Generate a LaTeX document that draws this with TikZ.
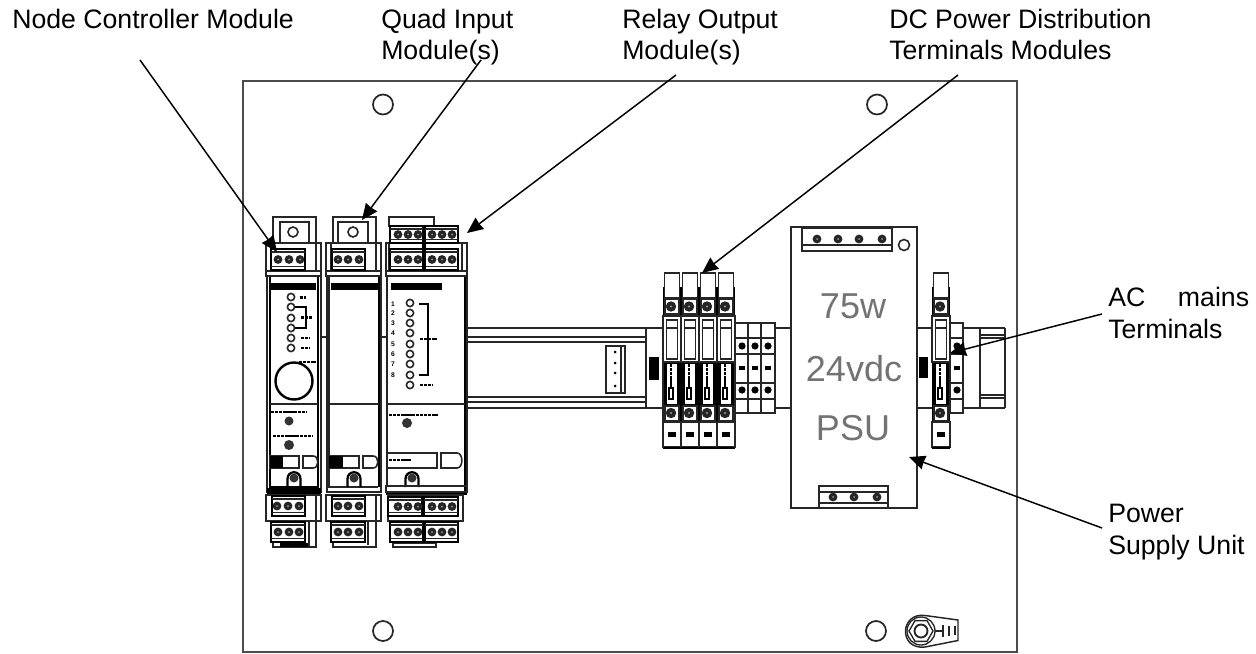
\documentclass[tikz,border=0pt]{standalone}
\usepackage{fontspec}
\setmainfont{Liberation Sans}
\usetikzlibrary{arrows.meta}
\tikzset{
  ln/.style={draw=black!85,line width=1pt},
  thk/.style={draw=black,line width=1.7pt},
  panelline/.style={draw=black!70,line width=1.8pt},
  lbl/.style={anchor=base west,font=\fontsize{20}{23.3}\selectfont,align=left,inner sep=0pt,text=black},
  psu/.style={anchor=center,font=\fontsize{27}{30}\selectfont,text=black!55,inner sep=0pt},
  ptr/.style={draw=black,line width=1.1pt,-{Stealth[length=12pt,width=10.5pt,inset=0.5pt]}},
  blob/.style={draw=black,line width=2.2pt,dash pattern=on 2.4pt off 0.5pt},
}
\newcommand{\scr}[2]{\fill[black!85] (#1,#2) circle (4.4);\fill[black!40] (#1,#2) circle (1);}
\newcommand{\led}[2]{\draw[draw=black!85,line width=1.2pt,fill=white] (#1,#2) circle (3.6);}
% terminal block: x1 y1 x2 y2 screws
\newcommand{\tblk}[5]{%
  \draw[thk,fill=white] (#1,#2) rectangle (#3,#4);
  \foreach \s in {#5}{\scr{\s}{#2/2+#4/2}}
  \draw[ln] (#1,#4-3.5) -- (#3,#4-3.5);
  \draw[ln] (#1,#2+3) -- (#3,#2+3);}
% screw post with arch
\newcommand{\arch}[2]{%
  \draw[thk] (#1-6.5,#2+9) -- (#1-6.5,#2+1) .. controls (#1-6.5,#2-8) and (#1+6.5,#2-8) .. (#1+6.5,#2+1) -- (#1+6.5,#2+9);
  \fill[black!80] (#1,#2) circle (4.5);}
% D-shaped window
\newcommand{\dshape}[4]{%
  \draw[draw=black!85,line width=1.2pt,fill=white] (#1,#3) -- (#1,#4) -- (#2-5,#4) .. controls (#2+1.5,#4) and (#2+1.5,#3) .. (#2-5,#3) -- cycle;}
% DC terminal column
\newcommand{\dcterm}[1]{%
  \draw[ln,fill=white] (#1-7.5,273) rectangle (#1+7.5,298);
  \draw[ln,fill=white] (#1-7,299) rectangle (#1+7,314);
  \fill[black!85] (#1-1,306.5) circle (5.2);\fill[black!40] (#1-1,306.5) circle (1.2);
  \draw[ln,fill=white] (#1-9,316) rectangle (#1+9,362);
  \draw[ln,fill=white] (#1-5.5,320) rectangle (#1+5.5,359);
  \draw[ln] (#1-5.5,328) -- (#1+5.5,328);
  \fill[white] (#1-5,364) rectangle (#1+5,404);
  \draw[blob,line width=1.8pt] (#1-1,364) -- (#1-1,388);
  \draw[draw=black,line width=1pt] (#1-3,388) rectangle (#1+1,399);
  \draw[ln,fill=white] (#1-7,406) rectangle (#1+7,421);
  \fill[black!85] (#1-1,413) circle (5.2);\fill[black!40] (#1-1,413) circle (1.2);
  \draw[ln,fill=white] (#1-9,422) rectangle (#1+9,447);
  \fill[black] (#1-4.5,432) rectangle (#1+3.5,437);
  \draw[thk] (#1-9,448) -- (#1+9,448);}
\begin{document}
\begin{tikzpicture}[x=0.75pt,y=-0.75pt]
\useasboundingbox (0,0) rectangle (1256,653);
% panel
\draw[panelline] (243,81) rectangle (1017,652);
\foreach \p in {(383,104.5),(877,104.5),(383,631),(876,631)}{\draw[draw=black!85,line width=1.3pt] \p circle (10);}
% earth lug
\draw[draw=black!85,line width=1.1pt] (958,620) -- (925,615.5) .. controls (900,612) and (898,650) .. (925,647) -- (958,640.5) -- cycle;
\draw[draw=black!85,line width=1pt] (921,631) circle (14);
\draw[draw=black!85,line width=1pt] (933,631) -- (927,620.6) -- (915,620.6) -- (909,631) -- (915,641.4) -- (927,641.4) -- cycle;
\draw[draw=black!85,line width=1.4pt] (921,631) circle (6.5);
\draw[draw=black!85,line width=1pt] (935,631) -- (943,631) (943,625) -- (943,637) (949,626) -- (949,636);
\draw[draw=black!85,line width=1pt] (955,626) -- (955,635);
% rail
\draw[ln] (467,328) -- (790,328) (467,408) -- (790,408);
\draw[ln] (467,337) -- (646,337) (467,342) -- (646,342) (467,397) -- (646,397) (467,402) -- (646,402);
\draw[ln] (646,328) -- (646,408);
\fill[black] (649,357) rectangle (659,380);
% small connector
\draw[ln,fill=white] (606,346) rectangle (625,393);
\draw[ln] (621,346) -- (621,393);
\foreach \y in {352,363,373,386}{\fill[black] (615,\y) circle (1.5);}
% module ticks
\draw[ln] (321,337) -- (326,337) (381,337) -- (386,337);
% module 1
\draw[ln,fill=white] (273,217) rectangle (316,243);
\draw[ln,fill=white] (280,222) rectangle (309,243);
\draw[draw=black!85,line width=1.2pt] (293,232) circle (5);
\draw[ln,fill=white] (266,243) rectangle (321,276);
\draw[ln] (271,243) -- (271,270) (316,243) -- (316,270);
\draw[ln] (266,271) -- (321,271);
\tblk{271}{249}{305}{270}{278,289,300}
\draw[ln,fill=white] (267,276) rectangle (321,492);
\draw[thk] (270,277) -- (270,487) -- (318,487) -- (318,277);
\fill[black] (270,283) rectangle (316,290);
\foreach \y in {297,307,318,328,338,348}{\led{291}{\y}}
\draw[draw=black,line width=1.2pt] (295,307) -- (306,307) -- (306,328) -- (295,328);
\draw[blob,line width=2.2pt] (300,297.5) -- (306,297.5) (301,317.5) -- (312,317.5) (301,338) -- (310,338) (301,348) -- (310,348) (299,362) -- (316,362);
\draw[draw=black,line width=1.8pt] (294,381) circle (18.5);
\draw[ln] (270,404) -- (318,404);
\draw[blob] (271,412) -- (307,412) (273,436) -- (313,436);
\fill[black!80] (289,421) circle (4.5);\fill[black!80] (289,445) circle (5);
\draw[draw=black!85,line width=1.2pt,fill=white] (270,456) rectangle (299,468);
\fill[black] (270,456) rectangle (283,468);
\dshape{303}{318}{456}{468}
\arch{294}{478}
\fill[black] (267,488) rectangle (321,495);
\draw[ln,fill=white] (266,495) rectangle (321,521);
\draw[ln] (316,495) -- (316,521);
\tblk{272}{496}{305}{516}{277,288,299}
\draw[ln,fill=white] (273,521) rectangle (316,547);
\draw[ln] (309,521) -- (309,547);
\tblk{271}{522}{305}{542}{278,289,299}
\fill[black] (280,543) rectangle (308,547);
% module 2
\draw[ln,fill=white] (333,217) rectangle (376,243);
\draw[ln,fill=white] (338,222) rectangle (368,243);
\draw[draw=black!85,line width=1.2pt] (353,232) circle (5);
\draw[ln,fill=white] (326,243) rectangle (381,276);
\draw[ln] (331,243) -- (331,270) (376,243) -- (376,270);
\draw[ln] (326,271) -- (381,271);
\tblk{332}{249}{365}{270}{338,348,359}
\draw[ln,fill=white] (327,276) rectangle (381,492);
\draw[ln] (329,277) -- (329,487) -- (378,487);
\draw[draw=black,line width=1.8pt] (379,277) -- (379,487);
\fill[black] (331,283) rectangle (379,290);
\draw[ln] (329,404) -- (379,404);
\draw[draw=black!85,line width=1.2pt,fill=white] (329,456) rectangle (359,468);
\fill[black] (329,456) rectangle (343,468);
\dshape{363}{378}{456}{468}
\arch{354}{478}
\draw[ln] (327,492) -- (381,492);
\draw[ln,fill=white] (326,495) rectangle (381,521);
\draw[ln] (376,495) -- (376,521);
\tblk{332}{496}{365}{516}{338,348,359}
\draw[ln,fill=white] (333,521) rectangle (376,547);
\draw[ln] (368,521) -- (368,545);
\tblk{331}{522}{365}{542}{338,348,359}
% module 3
\draw[ln,fill=white] (389,217) rectangle (434,226);
\draw[ln,fill=white] (386,243) rectangle (467,276);
\draw[ln] (389,243) -- (389,270) (462,243) -- (462,270);
\draw[ln] (386,271) -- (467,271);
\tblk{390}{226}{423}{243}{398,408,418}
\tblk{425}{226}{458}{243}{432,442,452}
\tblk{390}{249}{423}{270}{398,408,418}
\tblk{425}{249}{458}{270}{432,442,452}
\fill[black] (421.5,243) rectangle (425.5,270);
\draw[ln,fill=white] (387,276) rectangle (467,486);
\draw[draw=black,line width=1.8pt] (465,277) -- (465,495);
\fill[black] (391,283) rectangle (442,290);
\foreach \n/\y in {1/304,2/313,3/323,4/333,5/344,6/354,7/364,8/375}{\node[inner sep=0pt,font=\fontsize{5}{5}\bfseries\selectfont] (n\n) at (393,\y) {\n};}
\foreach \y in {303,313,323,333,344,354,364,375,385}{\led{410}{\y}}
\draw[draw=black,line width=1.4pt] (419,304) -- (428,304) -- (428,375) -- (419,375);
\draw[blob] (420,339) -- (437,339) (420,385) -- (433,385);
\draw[ln] (387,404) -- (465,404);
\draw[blob] (389,415) -- (438,415);
\fill[black!80] (407,423) circle (5);
\draw[draw=black!85,line width=1.2pt,fill=white] (387,453) rectangle (437,468);
\draw[blob,line width=1.6pt] (389,460) -- (411,460);
\dshape{441}{462}{453}{468}
\arch{412}{478}
\draw[ln] (386,486) rectangle (467,492);
\fill[black] (386,493) rectangle (467,495);
\draw[ln,fill=white] (388,495) rectangle (463,521);
\tblk{388}{497}{422.5}{516}{398,408,418}
\tblk{423.5}{497}{458}{516}{432,442,452}
\draw[ln,fill=white] (393,543) rectangle (436,547);
\tblk{390}{522}{423}{542}{398,408,418}
\tblk{425}{522}{458}{542}{432,442,452}
% DC terminal modules
\fill[black] (663,287) rectangle (735,316);
\fill[black] (663,362) rectangle (735,405);
\fill[black] (663,405) rectangle (735,422);
\foreach \c in {672,690,708,726}{\dcterm{\c}}
\draw[ln] (663,316) -- (663,448) (735,316) -- (735,448);
% three-way terminal
\draw[ln,fill=white] (735,323) rectangle (775,413);
\draw[ln] (748,323) -- (748,413) (761,323) -- (761,413);
\foreach \y in {338,354,383,399}{\draw[ln] (735,\y) -- (775,\y);}
\foreach \x in {742,755,768}{\fill[black] (\x,346) circle (3.6);\fill[black] (\x,390) circle (3.6);\fill[black] (\x-3,366) rectangle (\x+3,370);}
% PSU
\draw[ln,fill=white] (791,227) rectangle (917,508);
\draw[ln,fill=white] (802,228) rectangle (892,251);
\draw[ln] (802,245) -- (892,245);
\foreach \x in {817,838,859,882}{\scr{\x}{239}}
\draw[draw=black!85,line width=1.2pt] (904,245) circle (5.5);
\draw[ln,fill=white] (819,486) rectangle (888,508);
\draw[ln] (819,492) -- (888,492) (819,503) -- (888,503);
\foreach \x in {833,854,877}{\scr{\x}{497}}
\node[psu] (t75) at (853,306) {75w};
\node[psu] (t24) at (854,369) {24vdc};
\node[psu] (tpsu) at (853,428) {PSU};
% rail right side
\draw[ln] (917,328) -- (1005,328) (917,408) -- (1005,408);
\draw[ln] (980,328) -- (980,408) (1005,328) -- (1005,408);
\draw[ln] (980,335) -- (1005,335) (980,338) -- (1005,338) (980,395) -- (1005,395) (980,398) -- (1005,398);
\fill[black] (919,357) rectangle (928,378);
% AC terminal
\fill[black] (932,287) rectangle (950,316);
\fill[black] (932,362) rectangle (950,405);
\fill[black] (932,405) rectangle (950,422);
\dcterm{941}
\draw[ln,fill=white] (950,323) rectangle (963,413);
\foreach \y in {338,354,383,399}{\draw[ln] (950,\y) -- (963,\y);}
\fill[black] (957,346) circle (3.6);\fill[black] (957,390) circle (3.6);\fill[black] (954,366) rectangle (960,370);
% labels
\node[lbl] (lnc) at (12,28) {Node Controller Module};
\node[lbl] (lqi) at (381,59.5) {Quad Input\\Module(s)};
\node[lbl] (lro) at (622,59.5) {Relay Output\\Module(s)};
\node[lbl] (ldc) at (889,59.5) {DC Power Distribution\\Terminals Modules};
\node[lbl] (lac) at (1108,338) {AC\hspace{24.5pt}mains\\Terminals};
\node[lbl] (lps) at (1108,554) {Power\\Supply Unit};
% arrows
\coordinate (ancs) at (140,60); \coordinate (anct) at (277,252);
\coordinate (aqis) at (481,60); \coordinate (aqit) at (362,220);
\coordinate (aros) at (676,75); \coordinate (arot) at (467,233);
\coordinate (adcs) at (958,75); \coordinate (adct) at (702,273);
\coordinate (aacs) at (1102,314); \coordinate (aact) at (950,353);
\coordinate (apss) at (1102,528); \coordinate (apst) at (909,457);
\draw[ptr] (ancs) -- (anct);
\draw[ptr] (aqis) -- (aqit);
\draw[ptr] (aros) -- (arot);
\draw[ptr] (adcs) -- (adct);
\draw[ptr] (aacs) -- (aact);
\draw[ptr] (apss) -- (apst);
\end{tikzpicture}
\end{document}
